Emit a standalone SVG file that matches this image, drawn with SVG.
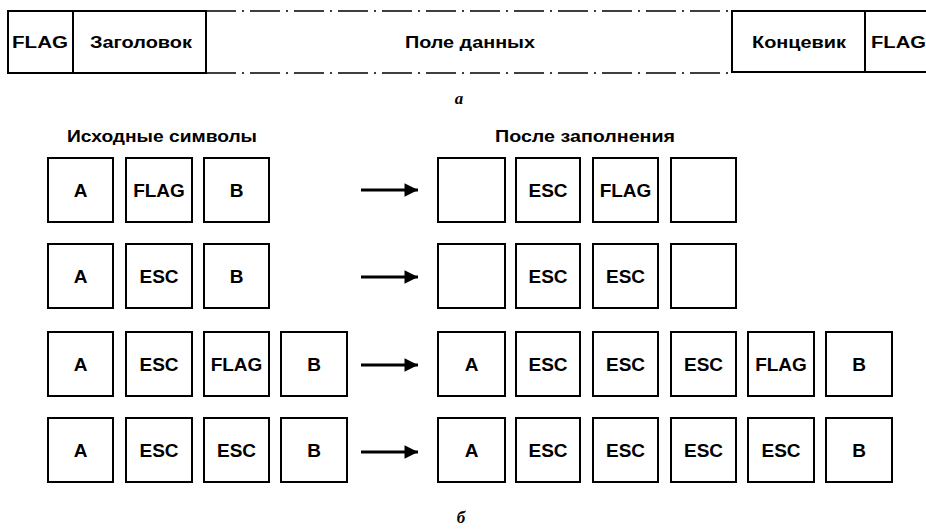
<svg xmlns="http://www.w3.org/2000/svg" width="926" height="529" viewBox="0 0 926 529">
<defs>
<style>
.b{fill:#fff;stroke:#000;stroke-width:2}
.t{font-family:"Liberation Sans",Arial,sans-serif;font-weight:bold;font-size:19px;fill:#000;text-anchor:middle}
.h{font-family:"Liberation Sans",Arial,sans-serif;font-weight:bold;font-size:16px;fill:#000}
.d{stroke:#000;stroke-width:1.6;fill:none;stroke-dasharray:30 6 2 6}
.c{stroke:#000;stroke-width:3;fill:none}
.cap{font-family:"Liberation Serif","Times New Roman",serif;font-style:italic;font-weight:bold;font-size:17px;fill:#000;text-anchor:middle}
</style>
<marker id="ah" viewBox="0 0 10 10" refX="10" refY="5" markerWidth="6" markerHeight="4.5" markerUnits="strokeWidth" orient="auto">
<path d="M0,0 L10,5 L0,10 Z" fill="#000"/>
</marker>
</defs>
<rect width="926" height="529" fill="#fff"/>

<!-- Frame (a) -->
<g id="frame">
<line class="d" x1="206" y1="11" x2="732" y2="11"/>
<line class="d" x1="206" y1="73" x2="732" y2="73"/>
<g id="frame-flag-left">
<rect class="b" x="8" y="11" width="65" height="62" stroke-width="2.5"/>
<text class="h" x="12" y="48" textLength="56" lengthAdjust="spacingAndGlyphs" font-size="18">FLAG</text>
</g>
<g id="frame-header">
<rect class="b" x="73" y="11" width="133" height="62"/>
<text class="h" x="90" y="48" textLength="102" lengthAdjust="spacingAndGlyphs">Заголовок</text>
</g>
<g id="frame-data">
<text class="h" x="405" y="48" textLength="130" lengthAdjust="spacingAndGlyphs">Поле данных</text>
</g>
<g id="frame-trailer">
<rect class="b" x="732" y="11" width="133" height="61"/>
<text class="h" x="752" y="48" textLength="94" lengthAdjust="spacingAndGlyphs">Концевик</text>
</g>
<g id="frame-flag-right">
<rect class="b" x="865" y="11" width="64" height="61"/>
<text class="h" x="871" y="48" textLength="55" lengthAdjust="spacingAndGlyphs" font-size="18">FLAG</text>
</g>
</g>
<text class="cap" x="459" y="104">а</text>

<!-- Column headers -->
<text class="h" x="67" y="142" textLength="190" lengthAdjust="spacingAndGlyphs">Исходные символы</text>
<text class="h" x="495" y="142" textLength="180" lengthAdjust="spacingAndGlyphs">После заполнения</text>

<!-- Row 1 -->
<g id="r1-src-1"><rect class="b" x="48" y="158" width="65" height="64"/><text class="t" x="80.5" y="197">A</text></g>
<g id="r1-src-2"><rect class="b" x="126" y="158" width="66" height="64"/><text class="t" x="159" y="197">FLAG</text></g>
<g id="r1-src-3"><rect class="b" x="204" y="158" width="65" height="64"/><text class="t" x="236.5" y="197">B</text></g>
<g id="r1-dst-1"><rect class="b" x="438" y="158" width="67" height="64"/></g>
<g id="r1-dst-2"><rect class="b" x="516" y="158" width="64" height="64"/><text class="t" x="548" y="197">ESC</text></g>
<g id="r1-dst-3"><rect class="b" x="593" y="158" width="65" height="64"/><text class="t" x="625.5" y="197">FLAG</text></g>
<g id="r1-dst-4"><rect class="b" x="671" y="158" width="65" height="64"/></g>

<!-- Row 2 -->
<g id="r2-src-1"><rect class="b" x="48" y="244" width="65" height="64"/><text class="t" x="80.5" y="283">A</text></g>
<g id="r2-src-2"><rect class="b" x="126" y="244" width="66" height="64"/><text class="t" x="159" y="283">ESC</text></g>
<g id="r2-src-3"><rect class="b" x="204" y="244" width="65" height="64"/><text class="t" x="236.5" y="283">B</text></g>
<g id="r2-dst-1"><rect class="b" x="438" y="244" width="67" height="64"/></g>
<g id="r2-dst-2"><rect class="b" x="516" y="244" width="64" height="64"/><text class="t" x="548" y="283">ESC</text></g>
<g id="r2-dst-3"><rect class="b" x="593" y="244" width="65" height="64"/><text class="t" x="625.5" y="283">ESC</text></g>
<g id="r2-dst-4"><rect class="b" x="671" y="244" width="65" height="64"/></g>

<!-- Row 3 -->
<g id="r3-src-1"><rect class="b" x="48" y="332" width="65" height="64"/><text class="t" x="80.5" y="371">A</text></g>
<g id="r3-src-2"><rect class="b" x="126" y="332" width="66" height="64"/><text class="t" x="159" y="371">ESC</text></g>
<g id="r3-src-3"><rect class="b" x="204" y="332" width="65" height="64"/><text class="t" x="236.5" y="371">FLAG</text></g>
<g id="r3-src-4"><rect class="b" x="281" y="332" width="66" height="64"/><text class="t" x="314" y="371">B</text></g>
<g id="r3-dst-1"><rect class="b" x="438" y="332" width="67" height="64"/><text class="t" x="471.5" y="371">A</text></g>
<g id="r3-dst-2"><rect class="b" x="516" y="332" width="64" height="64"/><text class="t" x="548" y="371">ESC</text></g>
<g id="r3-dst-3"><rect class="b" x="593" y="332" width="65" height="64"/><text class="t" x="625.5" y="371">ESC</text></g>
<g id="r3-dst-4"><rect class="b" x="671" y="332" width="65" height="64"/><text class="t" x="703.5" y="371">ESC</text></g>
<g id="r3-dst-5"><rect class="b" x="748" y="332" width="66" height="64"/><text class="t" x="781" y="371">FLAG</text></g>
<g id="r3-dst-6"><rect class="b" x="826" y="332" width="66" height="64"/><text class="t" x="859" y="371">B</text></g>

<!-- Row 4 -->
<g id="r4-src-1"><rect class="b" x="48" y="418" width="65" height="64"/><text class="t" x="80.5" y="457">A</text></g>
<g id="r4-src-2"><rect class="b" x="126" y="418" width="66" height="64"/><text class="t" x="159" y="457">ESC</text></g>
<g id="r4-src-3"><rect class="b" x="204" y="418" width="65" height="64"/><text class="t" x="236.5" y="457">ESC</text></g>
<g id="r4-src-4"><rect class="b" x="281" y="418" width="66" height="64"/><text class="t" x="314" y="457">B</text></g>
<g id="r4-dst-1"><rect class="b" x="438" y="418" width="67" height="64"/><text class="t" x="471.5" y="457">A</text></g>
<g id="r4-dst-2"><rect class="b" x="516" y="418" width="64" height="64"/><text class="t" x="548" y="457">ESC</text></g>
<g id="r4-dst-3"><rect class="b" x="593" y="418" width="65" height="64"/><text class="t" x="625.5" y="457">ESC</text></g>
<g id="r4-dst-4"><rect class="b" x="671" y="418" width="65" height="64"/><text class="t" x="703.5" y="457">ESC</text></g>
<g id="r4-dst-5"><rect class="b" x="748" y="418" width="66" height="64"/><text class="t" x="781" y="457">ESC</text></g>
<g id="r4-dst-6"><rect class="b" x="826" y="418" width="66" height="64"/><text class="t" x="859" y="457">B</text></g>

<!-- Connectors -->
<g id="connectors">
<line class="c" x1="361" y1="190" x2="418" y2="190" marker-end="url(#ah)"/>
<line class="c" x1="361" y1="277" x2="418" y2="277" marker-end="url(#ah)"/>
<line class="c" x1="361" y1="365" x2="418" y2="365" marker-end="url(#ah)"/>
<line class="c" x1="361" y1="452" x2="418" y2="452" marker-end="url(#ah)"/>
</g>

<text class="cap" x="461" y="523">б</text>
</svg>
